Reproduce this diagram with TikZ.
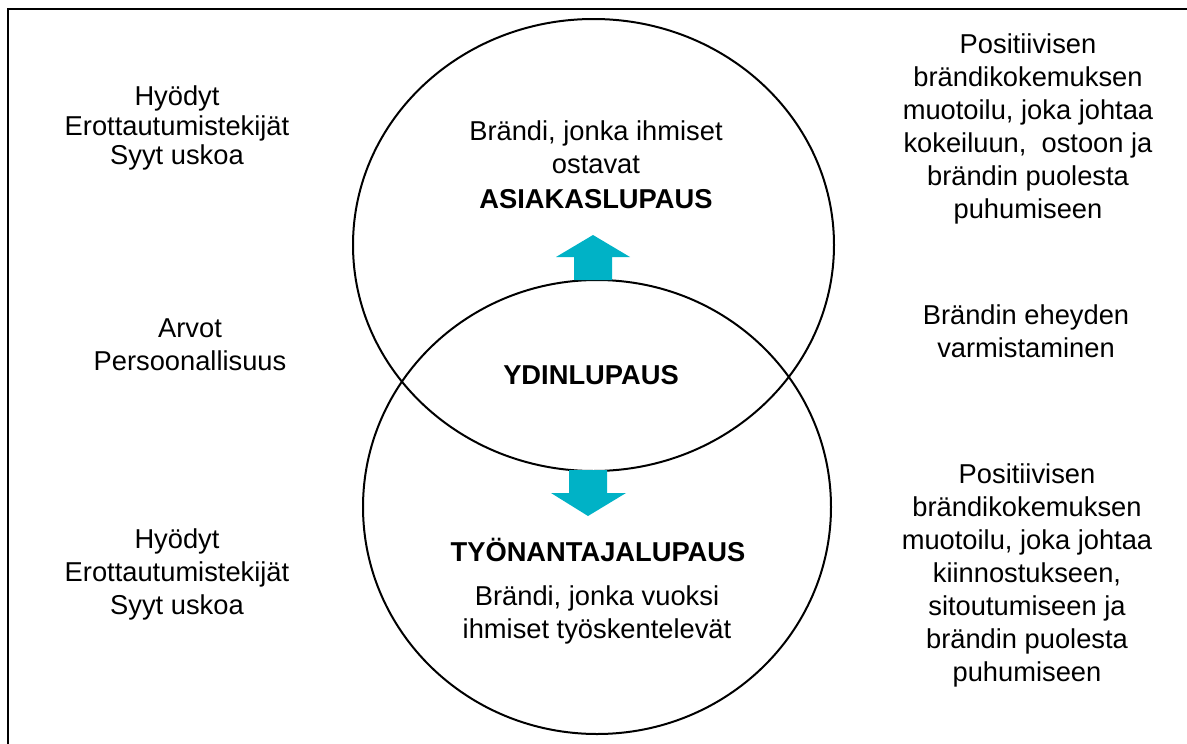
\documentclass[tikz,border=0pt]{standalone}
\usepackage{fontspec}
\setmainfont{Liberation Sans}
\usetikzlibrary{shapes.geometric}
\definecolor{arrowteal}{RGB}{0,178,198}
\begin{document}
\begin{tikzpicture}[x=1pt,y=-1pt,
  txt/.style={inner sep=0pt,align=center,font=\fontsize{27.3}{33}\selectfont},
  bold/.style={txt,font=\fontsize{27.3}{33}\selectfont\bfseries},
  ring/.style={draw=black,line width=2pt},
  flow/.style={fill=arrowteal,draw=none}]
\useasboundingbox (0,0) rectangle (1187,744);
% frame edges
\draw[line width=2.5pt] (8,744) -- (8,9) -- (1187,9);
% the two promise circles
\node[ring,ellipse,minimum width=481pt,minimum height=452pt,inner sep=0pt] (top) at (593.5,245) {};
\node[ring,ellipse,minimum width=468pt,minimum height=454pt,inner sep=0pt] (bottom) at (597,507) {};
% arrows out of the core
\fill[flow] (574,280) -- (574,257) -- (556,257) -- (593,235) -- (630,257) -- (612,257) -- (612,280) -- cycle;
\fill[flow] (569,470) -- (569,493) -- (551,493) -- (588,516) -- (626,493) -- (607,493) -- (607,470) -- cycle;
% circle texts
\node[txt] (tdesc) at (596,147) {Brändi, jonka ihmiset\\ostavat};
\node[bold] (tname) at (596,199) {ASIAKASLUPAUS};
\node[bold] (core) at (591,375) {YDINLUPAUS};
\node[bold] (bname) at (598,550) {TYÖNANTAJALUPAUS};
\node[txt] (bdesc) at (597,614.5) {Brändi, jonka vuoksi\\ihmiset työskentelevät};
% left column
\node[txt,font=\fontsize{27.3}{29.5}\selectfont] (l1) at (177,128) {Hyödyt\\Erottautumistekijät\\Syyt uskoa};
\node[txt] (l2) at (190,344.5) {Arvot\\Persoonallisuus};
\node[txt] (l3) at (177,574) {Hyödyt\\Erottautumistekijät\\Syyt uskoa};
% right column
\node[txt] (r1) at (1028,128.5) {Positiivisen\\brändikokemuksen\\muotoilu, joka johtaa\\kokeiluun,\ \ ostoon ja\\brändin puolesta\\puhumiseen};
\node[txt] (r2) at (1026,331) {Brändin eheyden\\varmistaminen};
\node[txt] (r3) at (1027,575) {Positiivisen\\brändikokemuksen\\muotoilu, joka johtaa\\kiinnostukseen,\\sitoutumiseen ja\\brändin puolesta\\puhumiseen};
\end{tikzpicture}
\end{document}
